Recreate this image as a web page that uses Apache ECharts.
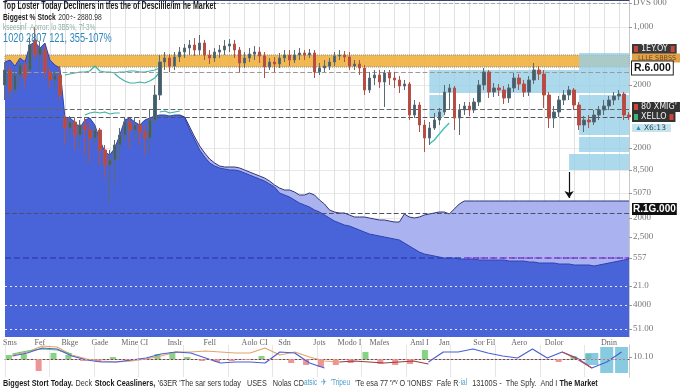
<!DOCTYPE html>
<html><head><meta charset="utf-8">
<script src="https://cdn.jsdelivr.net/npm/echarts@6.0.0/dist/echarts.min.js"></script>
<style>html,body{margin:0;padding:0;background:#fff}#chart{width:680px;height:389px}</style>
</head><body><div id="chart"></div>
<script>
const pad = n => Array(n).fill(null);

// ---------- axis labels ----------
const xTickLabels = ['Sms','Fef','Bkge','Gade','Mine CI','Inslr','Fell','Aolo CI','Sdn','Jots','Modo I','Mafes','Aml I','Jan','Sor Fil','Aero','Dolor','Dnin'];
const xTickIndex = [1,7,13,19,26,34,41,50,56,63,69,75,83,88,96,103,110,121];
const categories = Array.from({length:126}, (_, i) => 'T' + (i + 1));

const yTickValues = [3,27,85,148,170,193,218,237,258,286,305,329];
const yTickLabels = ['DVS 000','1,000','2000','2000','8,500','5070','2000','2,500','557','21.0','4000','51.00'];

// ---------- main panel data (decline depth, axis inverted) ----------
// [open, close, lowest, highest]
const declineCandles = [
 [85,70,62,100],[70,90,65,98],[90,75,68,95],[75,65,58,85],[65,78,60,88],[70,45,38,72],[40,55,27,60],[55,48,42,70],[50,72,45,78],[72,80,68,88],
 [80,75,70,90],[75,95,66,100],[118,128,115,145],[128,122,116,140],[122,135,118,150],[135,125,120,148],[125,130,118,155],[130,138,122,163],[138,130,125,145],[130,150,128,165],
 [150,165,145,178],[165,160,150,203],[160,145,140,185],[145,135,128,160],[135,122,117,142],[122,130,118,148],[130,125,117,140],[125,132,120,145],[132,138,125,155],[138,120,110,152],
 [120,95,85,125],[95,62,55,100],[62,58,52,70],[58,66,54,72],[66,57,52,70],[57,52,47,62],[52,48,44,58],[48,45,40,55],[45,50,38,56],[50,43,35,55],
 [43,55,40,60],[55,58,50,64],[58,52,48,62],[52,50,45,58],[50,46,40,55],[46,44,39,52],[44,50,40,58],[50,63,47,72],[63,58,52,68],[58,54,48,62],
 [54,52,46,60],[52,56,47,63],[56,67,52,78],[67,62,58,70],[62,64,57,72],[64,58,53,68],[58,55,50,62],[55,60,50,66],[60,55,50,63],[55,53,48,60],
 [53,55,50,60],[55,53,49,58],[53,72,50,78],[72,68,63,75],[68,66,60,72],[66,62,58,70],[62,56,52,66],[56,55,50,60],[55,57,51,62],[57,66,52,70],
 [66,64,60,70],[64,68,60,75],[68,90,65,95],[90,78,72,93],[78,75,70,85],[75,82,70,88],[82,73,70,107],[73,78,70,85],[78,80,72,88],[80,86,76,93],
 [86,84,80,90],[84,115,82,120],[115,105,100,118],[105,125,102,132],[125,138,120,152],[138,128,122,145],[128,120,113,130],[120,112,108,125],[112,92,85,115],[92,88,84,110],
 [88,118,86,130],[118,110,104,135],[110,106,102,115],[106,110,102,116],[110,102,98,113],[102,85,80,106],[85,72,68,90],[72,92,70,98],[92,88,83,97],[88,90,84,96],
 [90,98,86,104],[98,88,84,103],[88,78,73,92],[78,84,74,90],[84,92,80,97],[92,80,76,96],[80,70,63,84],[70,74,66,80],[74,95,70,108],[95,118,92,128],
 [118,112,106,128],[112,100,96,117],[100,95,90,105],[95,90,86,100],[90,105,88,110],[105,125,102,130],[125,120,116,132],[120,122,115,128],[122,115,110,125],[115,110,106,120],
 [110,106,100,115],[106,100,96,110],[100,96,92,105],[96,94,90,100],[94,115,92,120],[115,117,112,120]
];
const baseArea = [
 62,60,66,58,62,45,42,48,43,60,
 65,68,117,118,122,128,120,118,125,140,
 152,155,148,135,120,118,122,125,120,118,
 116,115,115,116,115,115,118,130,140,150,
 157,163,166,168,169,170,170,171,173,175,
 177,179,181,184,187,193,195,197,200,203,
 205,207,210,212,215,218,221,223,225,226,
 228,230,232,234,235,236,237,238,239,240,
 243,246,249,252,254,255,256,257,258,258,
 258,259,259,259,259,260,260,260,260,260,
 260,261,261,261,261,262,262,263,263,263,
 263,264,264,264,265,265,265,265,266,265,
 264,263,262,261,260,259
];
const bandArea = pad(35).concat([
 115,117,127,137,146,153,159,163,166,167,
 167,167,168,170,172,174,176,178,181,185,
 188,190,190,192,195,195,193,195,200,204,
 210,212,213,213,215,217,217,217,218,219,
 220,220,221,222,222,214,217,218,217,215,
 214,213,212,212,214,209,204,
 201,201,201,201,201,201,201,201,201,201,
 201,201,201,201,201,201,201,201,201,201,
 201,201,201,201,201,201,201,201,201,201,
 201,201,201,201
]);
const tealUpper = pad(12).concat([75,74,73,72,72,71,66,71,72,72,73,72,72,71,71,72,72,71,70,68]).concat(pad(94));
const tealDip = pad(22).concat([74,78,81,83,83,82,83,81,78,72]).concat(pad(94));
const tealLower = pad(16).concat([115,113,112,113,112,114,113,113]).concat(pad(7)).concat([112,111,113,112,111]).concat(pad(90));
const tealLate = pad(85).concat([144,140,134,128,123]).concat(pad(36));

const levelLines = [3,72,109,117,213,258];
const overlayLevels = [286,305,329];
const orangeBand = [55,67];
const zones = [[85,125,70,93],[85,88,95,117],[115,125,53,70],[115,125,95,135],[115,125,137,152],[113,125,154,170]];
const purpleSegment = [92,125,258];
const arrowMark = [113,172,198];
const badgeText = ['1EY.OY','LLLE SBBSS','R.6.000',"80 XMIG'",'XELLO','X6:13','R.1G.000'];
const badgeLevel = [49,58,68,107,117,128,209];

// ---------- lower oscillator panel ----------
const oscCategories = Array.from({length:42}, (_, j) => 'W' + (j + 1));
const oscOrange = [4,7,13,12,4,0,-2,-3,-2,0,3,7,7,8,7,6,6,11,4,7,2,-2,-3].concat(pad(19));
const oscMaroon = pad(22).concat([-3,-2,-3,-4,-3,-2,-5]).concat(pad(13));
const oscBlue = [3,6,11,10,3,-1,-3,-3,-1,1,5,7,6,1,-4,-3,-3,-4,7,6,-4,-9].concat(pad(6)).concat([-3,7,7,10,6,3,1,10,1,7,1,-9,-3,7]);
const oscRed = pad(37).concat([7,0,-9]).concat(pad(2));
const oscGreen = [5,8,10,9,5].concat(pad(37));
const histBars = [4,5,-12,6,4,-2,-3,2,-2,null,5,7,2,-2,-3,-2,-1,3,-1,-4,-6,-8,-6,-4,7,-5,-6,-5,9,null,null,null,null,null,null,null,null,-3,3,5,null,null];
const tealUp = pad(39).concat([6,12,12]);
const tealDown = pad(39).concat([-6,-14,-14]);
const oscTickValues = [2];
const oscTickLabels = ['10.10'];

// ---------- text ----------
const headerText = '{a|Top Loster Today Decliners in tfes the of Descilile/im he Market}\n{b|Biggest % Stock} {c|200÷- 2880.98}\n{d|kseesinf  Aorror: lo 3B5%, 7f-3%}\n{e|1020 2807 121, 355-107%}';
const footerText = "{b|Biggest Stort Today.} {n|Deck} {b|Stock Ceasliners,} {n|'63ER 'The sar sers today   USES   Nolas CD}{s|atsic  ✈  'Tripeu}  {n|'Te esa 77 'ʸ'ᵛ O 'IONBS'  Fafe R}{s|·ial}  {n|13100S -  The Spḟy.  And I }{b|The Market}";

// ---------- styles ----------
const sans = "'Liberation Sans',Arial,sans-serif";
const levelStyles = [
 {color:'#a8a8a8',width:1},{color:'#9a9a9a',width:1.2},{color:'#666',width:1.2},
 {color:'#555',width:1.2},{color:'#4b4f68',width:1.2},{color:'#3142b5',width:1.5}
];
const sqRich = {
 r:{width:4,height:6,backgroundColor:'#c8463a'},
 g:{width:4,height:6,backgroundColor:'#3fb07a'},
 w:{color:'#f2f2f2',fontSize:8,padding:[0,3],fontFamily:'DejaVu Sans'},
 tb:{color:'#1d4e60',fontSize:7.5,padding:[0,2],fontFamily:'DejaVu Sans'},
 ic:{color:'#2a8fb0',fontSize:7}
};
const badgeStyles = [
 {formatter:'{r| }{w|'+badgeText[0]+'}{r| }',backgroundColor:'#3a3a3a',padding:[1,2],rich:sqRich},
 {formatter:badgeText[1],backgroundColor:'#e1a24c',color:'#6d4418',fontSize:6.5,padding:[1,6],fontFamily:'DejaVu Sans'},
 {formatter:badgeText[2],backgroundColor:'#fff',borderColor:'#222',borderWidth:1,color:'#111',fontSize:10.5,fontWeight:'bold',padding:[1,2],fontFamily:sans},
 {formatter:'{r| }{w|'+badgeText[3]+'}{r| }',backgroundColor:'#333',padding:[1,2],rich:sqRich},
 {formatter:'{g| }{w|'+badgeText[4]+'}{r| }',backgroundColor:'#333',padding:[1,2],rich:sqRich},
 {formatter:'{ic|▲}{tb|'+badgeText[5]+'}',backgroundColor:'#c7e3ec',padding:[0,3],rich:sqRich},
 {formatter:badgeText[6],backgroundColor:'#111',color:'#fff',fontSize:10,fontWeight:'bold',padding:[1,1],fontFamily:sans}
];

const chart = echarts.init(document.getElementById('chart'), null, {renderer:'canvas'});

const purpleItem = [
 {coord:[categories[purpleSegment[0]],purpleSegment[2]],lineStyle:{color:'#b24fe0',width:1.5,type:[3,2]}},
 {coord:[categories[purpleSegment[1]],purpleSegment[2]]}
];
const levelMarks = levelLines.map((v,k)=>({yAxis:v, lineStyle:levelStyles[k]}))
 .concat(overlayLevels.map(v=>({yAxis:v, lineStyle:{color:'rgba(255,255,255,0.85)',width:1,type:[2,3]}})))
 .concat([purpleItem]);

const badgeMarks = badgeText.map((t,k)=>({
 yAxis: badgeLevel[k],
 lineStyle:{color:'rgba(0,0,0,0)',width:1},
 label:Object.assign({show:true,position:'end',distance:3}, badgeStyles[k])
}));
const arrowItem = [
 {coord:[categories[arrowMark[0]],arrowMark[1]],symbol:'none',lineStyle:{color:'#111',width:1.2,type:'solid'},label:{show:false}},
 {coord:[categories[arrowMark[0]],arrowMark[2]],symbol:'arrow',symbolSize:7}
];

const zoneAreas = [[{yAxis:orangeBand[0],itemStyle:{color:'rgba(240,174,58,0.88)',borderColor:'#8c8c8c',borderWidth:1,borderType:'dotted'}},{yAxis:orangeBand[1]}]]
 .concat(zones.map(z=>[{coord:[categories[z[0]],z[2]],itemStyle:{color:'rgba(150,206,232,0.78)'}},{coord:[categories[z[1]],z[3]]}]));

const option = {
 animation:false,
 backgroundColor:'#ffffff',
 graphic:[
  {type:'text', x:3, y:1, scaleX:0.71, z:100, silent:true,
   style:{text:headerText, verticalAlign:'top', rich:{
    a:{fontFamily:sans,fontWeight:'bold',fontSize:10,fill:'#1b1b1b',lineHeight:10},
    b:{fontFamily:sans,fontWeight:'bold',fontSize:9.5,fill:'#1b1b1b',lineHeight:9},
    c:{fontFamily:sans,fontSize:9.5,fill:'#333',lineHeight:9},
    d:{fontFamily:sans,fontSize:9,fill:'#8fb0a8',lineHeight:9},
    e:{fontFamily:sans,fontSize:13,fill:'#2b86ba',lineHeight:12}
   }}},
  {type:'text', x:3, y:377, scaleX:0.765, z:100, silent:true,
   style:{text:footerText, verticalAlign:'top', rich:{
    b:{fontFamily:sans,fontWeight:'bold',fontSize:9.5,fill:'#1b1b1b',lineHeight:11},
    n:{fontFamily:sans,fontSize:9.5,fill:'#333',lineHeight:11},
    s:{fontFamily:sans,fontSize:8.5,fill:'#4f9cc8',lineHeight:11}
   }}}
 ],
 grid:[
  {left:5, width:624, top:0, height:337, outerBoundsMode:'none', containLabel:false},
  {left:5, width:624, top:345, height:32, outerBoundsMode:'none', containLabel:false}
 ],
 xAxis:[
  {type:'category', gridIndex:0, data:categories, boundaryGap:false,
   axisLine:{show:true,lineStyle:{color:'#3c4270',width:1}}, axisTick:{show:false},
   axisLabel:{interval:(i)=>xTickIndex.indexOf(i)>=0, formatter:(v,i)=>{const k=xTickIndex.indexOf(i);return k>=0?xTickLabels[k]:'';}, margin:2, fontSize:8, color:'#666', fontFamily:"'Liberation Serif',serif"},
   splitLine:{show:true, interval:(i)=>i%3===0, lineStyle:{color:'#e2e2e2',width:1}}},
  {type:'category', gridIndex:1, data:oscCategories, boundaryGap:true,
   axisLine:{show:true,lineStyle:{color:'#555',width:1}}, axisTick:{show:false}, axisLabel:{show:false},
   splitLine:{show:true, lineStyle:{color:'#e6e6e6',width:1}}}
 ],
 yAxis:[
  {type:'value', gridIndex:0, position:'right', inverse:true, min:0, max:337,
   axisLine:{show:true,lineStyle:{color:'#c9c9c9'}},
   axisTick:{show:true, customValues:yTickValues, length:3, lineStyle:{color:'#999'}},
   axisLabel:{show:true, customValues:yTickValues, formatter:(v)=>{const k=yTickValues.indexOf(v);return k>=0?yTickLabels[k]:'';}, margin:4, fontSize:9, color:'#777', fontFamily:"'Liberation Serif',serif"},
   splitLine:{show:true, lineStyle:{color:'#e8e8e8'}}},
  {type:'value', gridIndex:1, position:'right', min:-18, max:14,
   axisLine:{show:true,lineStyle:{color:'#c9c9c9'}},
   axisTick:{show:true, customValues:oscTickValues, length:3, lineStyle:{color:'#999'}},
   axisLabel:{show:true, customValues:oscTickValues, formatter:(v)=>{const k=oscTickValues.indexOf(v);return k>=0?oscTickLabels[k]:'';}, margin:4, fontSize:9, color:'#777', fontFamily:"'Liberation Serif',serif"},
   splitLine:{show:false}}
 ],
 series:[
  {name:'band', type:'line', data:bandArea, xAxisIndex:0, yAxisIndex:0, z:2, symbol:'none',
   lineStyle:{color:'#2f3470',width:1}, areaStyle:{color:'#aab3f0',opacity:1,origin:'end'},
   markArea:{silent:true, data:zoneAreas}},
  {name:'base', type:'line', data:baseArea, xAxisIndex:0, yAxisIndex:0, z:3, symbol:'none',
   lineStyle:{color:'#2f42b0',width:1}, areaStyle:{color:'#4964d9',opacity:1,origin:'end'},
   markLine:{silent:true, symbol:'none', label:{show:false}, data:levelMarks}},
  {name:'tealUpper', type:'line', data:tealUpper, z:4, symbol:'none', lineStyle:{color:'#3db3a6',width:1.2}},
  {name:'tealDip', type:'line', data:tealDip, z:4, symbol:'none', lineStyle:{color:'#3db3a6',width:1.2}},
  {name:'tealLower', type:'line', data:tealLower, z:4, symbol:'none', lineStyle:{color:'#3db3a6',width:1.2}},
  {name:'tealLate', type:'line', data:tealLate, z:4, symbol:'none', lineStyle:{color:'#45c0b8',width:1.4}},
  {name:'decline', type:'candlestick', data:declineCandles, xAxisIndex:0, yAxisIndex:0, z:5, barWidth:3,
   itemStyle:{color:'#c0473d', color0:'#3e5f6e', borderColor:'#b0524a', borderColor0:'#5a6b75', borderWidth:1},
   markLine:{silent:true, symbol:'none', data:badgeMarks.concat([arrowItem])}},
  {name:'oscOrange', type:'line', data:oscOrange, xAxisIndex:1, yAxisIndex:1, symbol:'none', lineStyle:{color:'#e2a468',width:1.2}},
  {name:'oscMaroon', type:'line', data:oscMaroon, xAxisIndex:1, yAxisIndex:1, symbol:'none', lineStyle:{color:'#9c3b3b',width:1.2}},
  {name:'oscGreen', type:'line', data:oscGreen, xAxisIndex:1, yAxisIndex:1, symbol:'none', lineStyle:{color:'#6cc070',width:1.2}},
  {name:'hist', type:'bar', data:histBars, xAxisIndex:1, yAxisIndex:1, barWidth:6, barGap:'-100%',
   itemStyle:{color:(p)=>p.value>=0?'rgba(110,205,110,0.85)':'rgba(236,130,130,0.85)'},
   markLine:{silent:true, symbol:'none', label:{show:false}, data:[{yAxis:0, lineStyle:{color:'#e8a0a0',width:1,type:[2,2]}}]}},
  {name:'tealUp', type:'bar', stack:'teal', data:tealUp, xAxisIndex:1, yAxisIndex:1, barWidth:13, barGap:'-100%', itemStyle:{color:'rgba(96,185,215,0.75)'}},
  {name:'tealDown', type:'bar', stack:'teal', data:tealDown, xAxisIndex:1, yAxisIndex:1, barWidth:13, barGap:'-100%', itemStyle:{color:'rgba(96,185,215,0.75)'}},
  {name:'oscBlue', type:'line', data:oscBlue, xAxisIndex:1, yAxisIndex:1, symbol:'none', z:4, lineStyle:{color:'#4b5fd2',width:1.2}},
  {name:'oscRed', type:'line', data:oscRed, xAxisIndex:1, yAxisIndex:1, symbol:'none', z:4, lineStyle:{color:'#c44a4a',width:1.2}}
 ]
};
chart.setOption(option);
</script></body></html>
